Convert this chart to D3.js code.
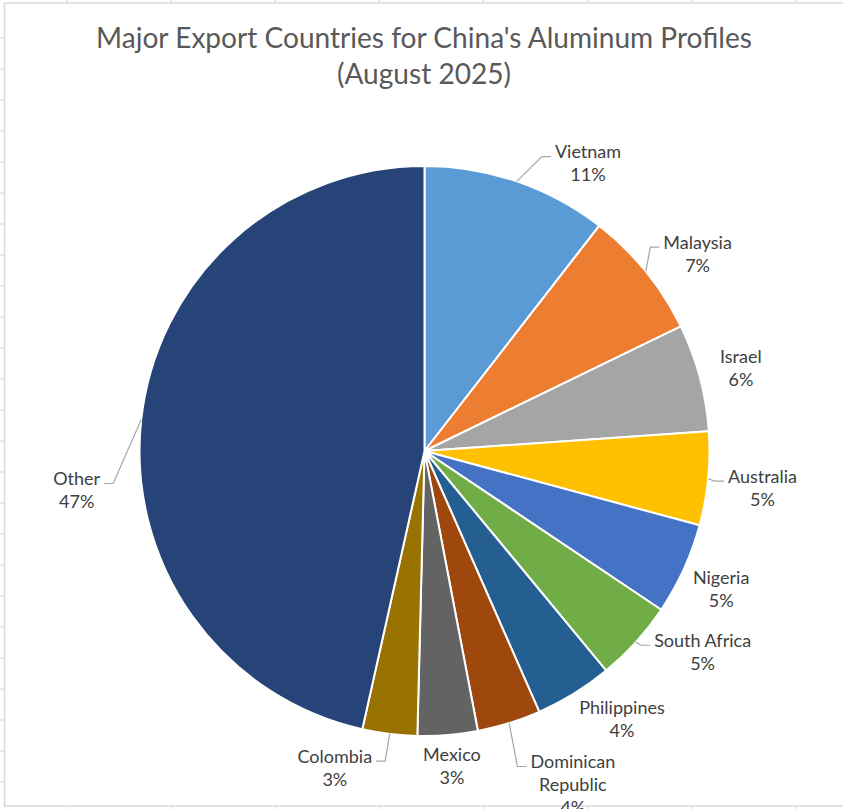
<!DOCTYPE html>
<html>
<head>
<meta charset="utf-8">
<script src="https://cdn.jsdelivr.net/npm/d3@7"></script>
<style>
  html, body { margin: 0; padding: 0; background: #ffffff; }
  svg { display: block; }
</style>
</head>
<body>
<svg id="chart" width="843" height="809"></svg>
<script>
// ---- data ----
const titleLines = ["Major Export Countries for China's Aluminum Profiles", "(August 2025)"];
const categories = ["Vietnam", "Malaysia", "Israel", "Australia", "Nigeria", "South Africa",
                    "Philippines", "Dominican Republic", "Mexico", "Colombia", "Other"];
const shares = [10.5, 7.3, 6.1, 5.3, 5.2, 4.6, 4.4, 3.6, 3.4, 3.1, 46.5];
const colors = ["#5B9BD5", "#ED7D31", "#A5A5A5", "#FFC000", "#4472C4", "#70AD47",
                "#255E91", "#9E480E", "#636363", "#997300", "#264478"];

// ---- label layout (Excel best-fit placement, angle offset deg / radius) ----
const labelAngleShift = [10.7, 3.2, 0.3, 0.6, 0.4, -6.3, -4.7, -6.7, -0.3, 8.8, -12.7];
const labelRadius     = [331, 337, 327, 340, 327, 343, 333, 365, 316, 329, 350];
const showLeader      = [true, true, false, true, false, true, false, true, false, true, true];

const W = 843, H = 809;
const cx = 424.5, cy = 451, R = 285;
const svg = d3.select("#chart");
const fontFamily = "Lato, 'Open Sans', 'Liberation Sans', sans-serif";

// ---- spreadsheet background: chart border and grid stubs ----
const grid = svg.append("g").attr("stroke", "#d4d4d4").attr("stroke-width", 1);
d3.range(67, W, 104.1).forEach(x => {
  grid.append("line").attr("x1", x).attr("x2", x).attr("y1", 0).attr("y2", 3);
  grid.append("line").attr("x1", x).attr("x2", x).attr("y1", 806).attr("y2", H);
});
d3.range(38, H, 31).forEach(y => {
  grid.append("line").attr("x1", 0).attr("x2", 4).attr("y1", y).attr("y2", y);
});
svg.append("rect")
  .attr("x", 4.5).attr("y", 3).attr("width", W + 10).attr("height", 803)
  .attr("fill", "#ffffff").attr("stroke", "#d9d9d9").attr("stroke-width", 1.5);

// helper for text width fitting
function measure(str, size) {
  const t = svg.append("text").attr("font-family", fontFamily).attr("font-size", size).text(str);
  const w = t.node().getComputedTextLength();
  t.remove();
  return w;
}

// ---- title ----
const titleSize = 28 * 656 / measure(titleLines[0], 28);
svg.append("g").selectAll("text").data(titleLines).join("text")
  .attr("x", 424)
  .attr("y", (d, i) => 48 + i * 36)
  .attr("text-anchor", "middle")
  .attr("font-family", fontFamily)
  .attr("font-size", titleSize)
  .attr("fill", "#595959")
  .text(d => d);

// ---- pie ----
const pie = d3.pie().sort(null).value(d => d.v).startAngle(0).endAngle(2 * Math.PI);
const data = categories.map((c, i) => ({ name: c, v: shares[i], color: colors[i], i }));
const arcs = pie(data);
const arc = d3.arc().innerRadius(0).outerRadius(R);

const g = svg.append("g").attr("transform", `translate(${cx},${cy})`);
g.selectAll("path.slice").data(arcs).join("path")
  .attr("class", "slice")
  .attr("d", arc)
  .attr("fill", d => d.data.color)
  .attr("stroke", "#ffffff")
  .attr("stroke-width", 2)
  .attr("stroke-linejoin", "round");

// ---- labels ----
const labelSize = 18 * 97 / measure("South Africa", 18);
const lineGap = 23;
const polar = (ang, r) => [r * Math.sin(ang), -r * Math.cos(ang)];

arcs.forEach((a, i) => {
  const mid = (a.startAngle + a.endAngle) / 2;
  const [lx, ly] = polar(mid + labelAngleShift[i] * Math.PI / 180, labelRadius[i]);
  const nameLines = a.data.name.length > 14 ? a.data.name.split(" ") : [a.data.name];
  const lines = nameLines.concat([Math.round(a.data.v) + "%"]);
  const top = ly - (lines.length - 1) * lineGap / 2;
  const widths = lines.map(s => measure(s, labelSize));
  const bw = d3.max(widths);

  if (showLeader[i]) {
    const [px, py] = polar(mid, R);
    const yL = top + 5;
    const right = lx > px;            // label sits to the right of its anchor
    const edge = right ? lx - bw / 2 : lx + bw / 2;
    const elbow = right ? edge - 13 : edge + 13;
    const end = right ? edge - 4 : edge + 4;
    g.append("path")
      .attr("d", d3.line()([[px, py], [elbow, yL], [end, yL]]))
      .attr("fill", "none")
      .attr("stroke", "#a6a6a6")
      .attr("stroke-width", 1.2);
  }

  g.append("g").selectAll("text").data(lines).join("text")
    .attr("x", lx)
    .attr("y", (d, k) => top + k * lineGap)
    .attr("dy", "0.36em")
    .attr("text-anchor", "middle")
    .attr("font-family", fontFamily)
    .attr("font-size", labelSize)
    .attr("fill", "#404040")
    .text(d => d);
});
</script>
</body>
</html>
